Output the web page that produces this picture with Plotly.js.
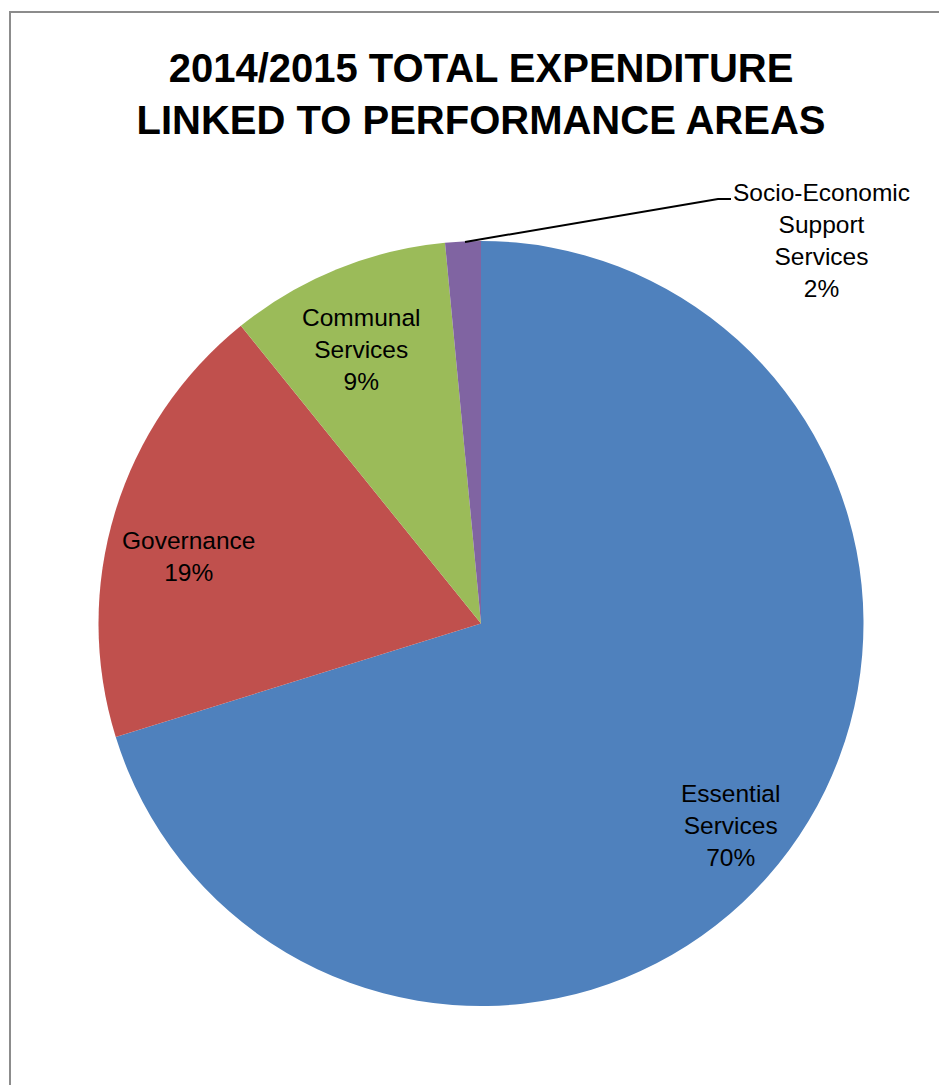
<!DOCTYPE html>
<html>
<head>
<meta charset="utf-8">
<script src="https://cdn.plot.ly/plotly-3.0.1.min.js"></script>
<style>
html,body{margin:0;padding:0;background:#fff;}
#chart{width:939px;height:1085px;}
</style>
</head>
<body>
<div id="chart"></div>
<script>
// Data
var categories = ["Essential Services", "Governance", "Communal Services", "Socio-Economic Support Services"];
var labelLines = [["Essential", "Services"], ["Governance"], ["Communal", "Services"], ["Socio-Economic", "Support", "Services"]];
var values = [70.2, 19.0, 9.3, 1.5];
var colors = ["#4F81BD", "#C0504D", "#9BBB59", "#8064A2"];

var W = 939, H = 1085;
function px(x){ return x / W; }
function py(y){ return 1 - y / H; }

var total = values.reduce(function(a,b){return a+b;}, 0);
var pctText = values.map(function(v){ return Math.round(v / total * 100) + "%"; });

// Label placement (pixels in page space)
var labelPos = [[730, 825], [188, 556], [361, 350], [821, 240]];

var annotations = categories.map(function(c, i){
  return {
    xref: "paper", yref: "paper",
    x: px(labelPos[i][0]), y: py(labelPos[i][1]),
    xanchor: "center", yanchor: "middle",
    showarrow: false,
    align: "center",
    text: labelLines[i].concat([pctText[i]]).join("<br>"),
    font: {family: "Liberation Sans, Arial, sans-serif", size: 24.5, color: "#000"}
  };
});

var trace = {
  type: "pie",
  labels: categories,
  values: values,
  sort: false,
  direction: "clockwise",
  rotation: 0,
  marker: {colors: colors, line: {color: "#ffffff", width: 0}},
  textinfo: "none",
  hoverinfo: "label+percent",
  showlegend: false,
  domain: {x: [px(98), px(864)], y: [py(1006), py(241)]}
};

var layout = {
  width: W, height: H,
  margin: {l: 0, r: 0, t: 0, b: 0},
  paper_bgcolor: "#ffffff",
  showlegend: false,
  title: {
    text: "2014/2015 TOTAL EXPENDITURE<br>LINKED TO PERFORMANCE AREAS",
    x: px(481), xanchor: "center",
    y: py(82), yanchor: "middle",
    xref: "paper", yref: "container",
    font: {family: "Liberation Sans, Arial, sans-serif", size: 40, color: "#000", weight: "bold"}
  },
  annotations: annotations,
  shapes: [
    {type: "rect", xref: "paper", yref: "paper",
     x0: px(10), x1: px(960), y0: py(12), y1: py(1100),
     line: {color: "#8c8c8c", width: 2}, fillcolor: "rgba(0,0,0,0)", layer: "below"},
    {type: "path", xref: "paper", yref: "paper",
     path: "M " + px(465) + "," + py(242) + " L " + px(718) + "," + py(199) + " L " + px(731) + "," + py(199),
     line: {color: "#000", width: 2}}
  ]
};

Plotly.newPlot("chart", [trace], layout, {displayModeBar: false, staticPlot: true});
</script>
</body>
</html>
